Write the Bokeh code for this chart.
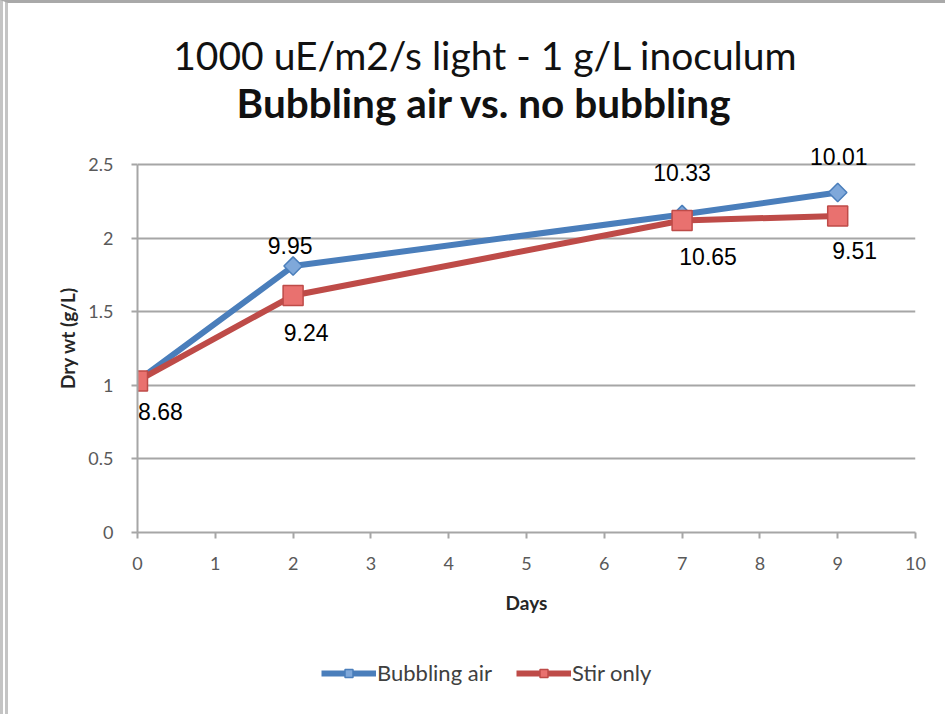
from bokeh.plotting import figure
from bokeh.layouts import column
from bokeh.models import (ColumnDataSource, Legend, LegendItem,
                          FixedTicker, Range1d)
from bokeh.core.properties import value
from bokeh.embed import file_html
from bokeh.resources import INLINE

# Dry weight measurements (g/L) over time
days = [0, 2, 7, 9]
bubbling_air = [1.03, 1.81, 2.16, 2.31]
stir_only = [1.03, 1.61, 2.12, 2.15]

# Annotated readings shown next to the points
air_label_days = [2, 7, 9]
air_label_y = [1.81, 2.16, 2.31]
air_labels = ["9.95", "10.33", "10.01"]
stir_labels = ["8.68", "9.24", "10.65", "9.51"]

title_main = "1000 uE/m2/s light - 1 g/L inoculum"
title_sub = "Bubbling air vs. no bubbling"
series_names = ["Bubbling air", "Stir only"]

x_ticks = list(range(0, 11))
y_ticks = [0, 0.5, 1, 1.5, 2, 2.5]
Y_MAX = 2.5

BLUE = "#4A7EBB"
BLUE_FILL = "#7FA8DA"
RED = "#BE4B48"
RED_FILL = "#E9716F"
GRID = "#A6A6A6"
TICK_TEXT = "#595959"
FONT = "Lato"

W = 937            # canvas width of every panel
BL, BR = 129, 30   # side borders shared by all panels, so frames line up
FW = W - BL - BR   # frame width
FH = 368           # height of the 0..2.5 span in pixels
HEADROOM = 21      # extra frame space above 2.5 for the top value labels


def strip(height):
    """A panel without axes whose ranges are in frame pixels."""
    f = figure(width=W, height=height, output_backend="svg", toolbar_location=None,
               x_range=Range1d(0, FW), y_range=Range1d(0, height),
               min_border_left=BL, min_border_right=BR,
               min_border_top=0, min_border_bottom=0,
               x_axis_type=None, y_axis_type=None)
    f.title = None
    f.grid.visible = False
    f.outline_line_color = None
    return f


# ---- title block ----
TITLE_H = 140
head = strip(TITLE_H)
head.text(x=[FW / 2 - 41], y=[89], text=[title_main], text_align="center",
          text_baseline="middle", text_font=value(FONT), text_font_size="39px",
          text_color="#111111")
head.text(x=[FW / 2 - 42], y=[41], text=[title_sub], text_align="center",
          text_baseline="middle", text_font=value(FONT), text_font_size="40.5px",
          text_font_style="bold", text_color="#111111")

# ---- main chart ----
p = figure(width=W, height=FH + HEADROOM + 100, output_backend="svg",
           toolbar_location=None,
           x_range=Range1d(0, 10),
           y_range=Range1d(0, Y_MAX * (FH + HEADROOM) / FH),
           min_border_left=BL, min_border_right=BR,
           min_border_top=0, min_border_bottom=100)
p.title = None
p.outline_line_color = None

for ax in (p.xaxis[0], p.yaxis[0]):
    ax.axis_line_color = GRID
    ax.axis_line_width = 2
    ax.major_tick_line_color = GRID
    ax.major_tick_line_width = 2
    ax.major_tick_out = 6
    ax.major_tick_in = 0
    ax.minor_tick_line_color = None
    ax.major_label_text_font = FONT
    ax.major_label_text_font_size = "18px"
    ax.major_label_text_color = TICK_TEXT
    ax.axis_label_text_font = FONT
    ax.axis_label_text_font_style = "bold"
    ax.axis_label_text_color = "#262626"
    ax.axis_label_text_font_size = "19px"

p.yaxis.bounds = (0, Y_MAX)
p.xaxis.ticker = FixedTicker(ticks=x_ticks)
p.yaxis.ticker = FixedTicker(ticks=y_ticks)
p.yaxis.major_label_overrides = {0: "0", 0.5: "0.5", 1: "1", 1.5: "1.5", 2: "2", 2.5: "2.5"}
p.xaxis.axis_label = "Days"
p.yaxis.axis_label = "Dry wt (g/L)"
p.xaxis.major_label_standoff = 18
p.xaxis.axis_label_standoff = 18
p.yaxis.major_label_standoff = 18
p.yaxis.axis_label_standoff = 6

p.xgrid.grid_line_color = None
p.ygrid.grid_line_color = GRID
p.ygrid.grid_line_width = 2

air_src = ColumnDataSource(dict(x=days, y=bubbling_air))
stir_src = ColumnDataSource(dict(x=days, y=stir_only))

line_style = [dict(line_color=BLUE, line_width=6), dict(line_color=RED, line_width=6)]
marker_style = [dict(marker="square", angle=0.785, size=13, fill_color=BLUE_FILL,
                     line_color=BLUE, line_width=1.5),
                dict(marker="square", size=20, fill_color=RED_FILL,
                     line_color=RED, line_width=1.5)]

for src, ls in zip((air_src, stir_src), line_style):
    p.line("x", "y", source=src, **ls)
for src, ms in zip((air_src, stir_src), marker_style):
    p.scatter("x", "y", source=src, **ms)

# Value annotations: air readings above, stir readings below the points
air_lab_src = ColumnDataSource(dict(x=air_label_days, y=air_label_y, t=air_labels,
                                    dx=[-3, 0, 1], dy=[-21, -42, -36]))
stir_lab_src = ColumnDataSource(dict(x=days, y=stir_only, t=stir_labels,
                                     dx=[23, 13, 26, 17], dy=[31, 37, 36, 34]))
for src in (air_lab_src, stir_lab_src):
    p.text("x", "y", text="t", source=src, x_offset="dx", y_offset="dy",
           text_align="center", text_baseline="middle",
           text_font=value("Liberation Sans"), text_font_size="23px",
           text_color="black")

# ---- legend strip ----
# The strip's ranges sit away from the data, so its series renderers only
# feed the legend swatches and draw nothing in the strip itself.
LEG_H = 82
foot = strip(LEG_H)
foot.x_range = Range1d(100, 100 + FW)
foot.y_range = Range1d(100, 100 + LEG_H)
items = []
for name, src, ls, ms in zip(series_names, (air_src, stir_src), line_style, marker_style):
    r_line = foot.line("x", "y", source=src, **ls)
    r_mark = foot.scatter("x", "y", source=src, **ms)
    items.append(LegendItem(label=name, renderers=[r_line, r_mark]))

legend = Legend(items=items, orientation="horizontal", location=(184, 28))
legend.label_text_font = FONT
legend.label_text_font_size = "22px"
legend.label_text_color = "#404040"
legend.glyph_width = 55
legend.glyph_height = 20
legend.label_standoff = 1
legend.spacing = 24
legend.padding = 10
legend.border_line_color = None
legend.background_fill_alpha = 0
legend.margin = 0
foot.add_layout(legend, "center")

page = column(head, p, foot, spacing=0,
              styles={"border-left": "8px double #c4c4c4",
                      "border-top": "3px solid #a9a9a9"})
open("out.html", "w").write(file_html(page, INLINE))
